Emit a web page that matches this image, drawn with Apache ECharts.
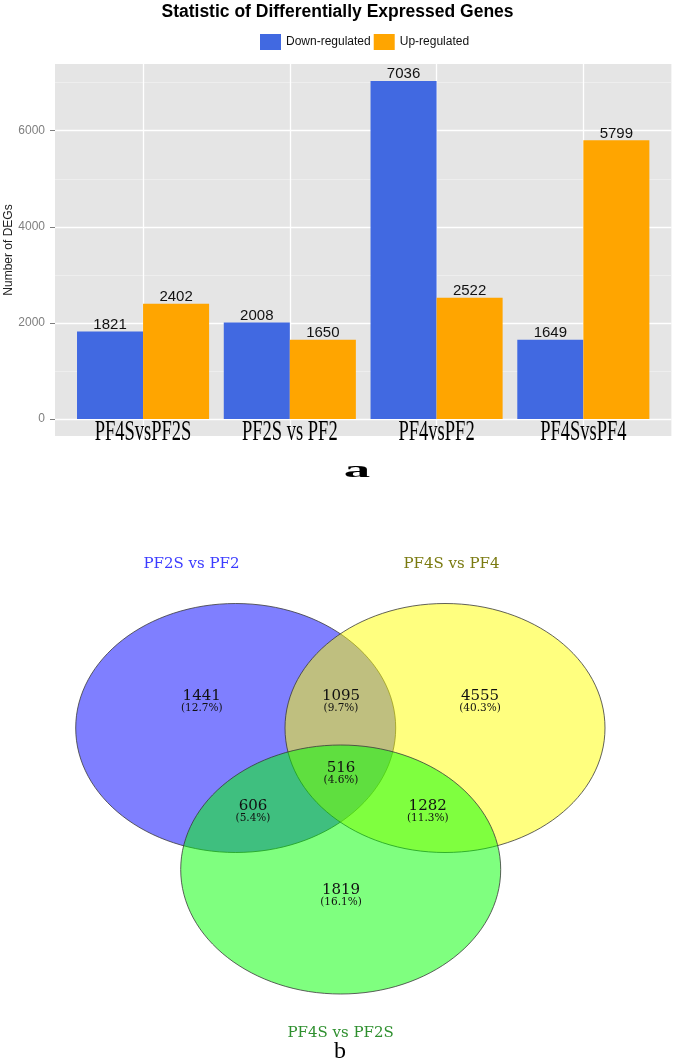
<!DOCTYPE html>
<html>
<head>
<meta charset="utf-8">
<script src="https://cdn.jsdelivr.net/npm/echarts@6/dist/echarts.min.js"></script>
<style>
html,body{margin:0;padding:0;background:#ffffff;}
#chart{width:675px;height:1063px;}
</style>
</head>
<body>
<div id="chart"></div>
<script>
// ---------------- data ----------------
const categories = ['PF4SvsPF2S', 'PF2S vs PF2', 'PF4vsPF2', 'PF4SvsPF4'];
const downRegulated = [1821, 2008, 7036, 1649];
const upRegulated = [2402, 1650, 2522, 5799];
const yMajorTicks = [0, 2000, 4000, 6000];
const yMinorTicks = [1000, 3000, 5000, 7000];

const vennSetNames = ['PF2S vs PF2', 'PF4S vs PF4', 'PF4S vs PF2S'];
// regions: only A, A∩B, only B, A∩C, A∩B∩C, B∩C, only C
const vennRegionCounts = [1441, 1095, 4555, 606, 516, 1282, 1819];
const vennRegionPercents = ['12.7%', '9.7%', '40.3%', '5.4%', '4.6%', '11.3%', '16.1%'];

// ---------------- layout / style ----------------
const dataMax = Math.max(...downRegulated, ...upRegulated);
const yMin = -0.05 * dataMax, yMax = 1.05 * dataMax;
const xMin = 0.4, xMax = categories.length + 0.6;
const catPos = categories.map((c, i) => i + 1);
const BAR_HALF = 0.45;

// Venn layout in diagram coordinates
const vennEllipseLayout = [
  { cx: 235.7, cy: 728, rx: 160, ry: 124.5, fill: 'rgba(0,0,255,0.5)' },
  { cx: 445.0, cy: 728, rx: 160, ry: 124.5, fill: 'rgba(255,255,0,0.5)' },
  { cx: 340.7, cy: 869.5, rx: 160, ry: 124.5, fill: 'rgba(0,255,0,0.5)' }
];
const vennSetLabelLayout = [
  { x: 191.5, y: 564, color: '#3b3bff' },
  { x: 451.5, y: 564, color: '#7a7a10' },
  { x: 340.6, y: 1033, color: '#2e8f2e' }
];
const vennRegionLabelLayout = [
  [201.7, 696], [341, 696], [480, 696], [253, 806], [341, 768], [427.7, 806], [341, 890]
];

const chart = echarts.init(document.getElementById('chart'), null, { renderer: 'canvas' });

function barRenderer(side) {
  return function (params, api) {
    const x = api.value(0), v = api.value(1);
    const x0 = side < 0 ? x - BAR_HALF : x;
    const x1 = side < 0 ? x : x + BAR_HALF;
    const pTop = api.coord([x0, v]);
    const pBot = api.coord([x1, 0]);
    return {
      type: 'group',
      children: [
        {
          type: 'rect',
          shape: { x: pTop[0], y: pTop[1], width: pBot[0] - pTop[0], height: pBot[1] - pTop[1] },
          style: { fill: api.visual('color') }
        },
        {
          type: 'text',
          style: {
            text: String(v), x: (pTop[0] + pBot[0]) / 2, y: pTop[1] - 7,
            align: 'center', verticalAlign: 'middle',
            fontFamily: 'Liberation Sans, Arial, sans-serif', fontSize: 15, fill: '#111'
          }
        }
      ]
    };
  };
}

const option = {
  animation: false,
  backgroundColor: '#ffffff',
  title: {
    text: 'Statistic of Differentially Expressed Genes',
    left: 'center', top: 3, padding: 0,
    textStyle: { fontFamily: 'Liberation Sans, Arial, sans-serif', fontWeight: 'bold', fontSize: 17.5, color: '#000' }
  },
  legend: {
    data: ['Down-regulated', 'Up-regulated'],
    left: 260, top: 34, padding: 0,
    icon: 'rect', itemWidth: 21, itemHeight: 16, itemGap: 3,
    textStyle: { fontFamily: 'Liberation Sans, Arial, sans-serif', fontSize: 12, color: '#111' }
  },
  graphic: [
    {
      type: 'text', x: 357, y: 471, scaleX: 2.2,
      style: { text: 'a', align: 'center', verticalAlign: 'middle', fontFamily: 'Liberation Serif, serif', fontWeight: 'bold', fontSize: 24, fill: '#000' }
    },
    {
      type: 'text', x: 340, y: 1052,
      style: { text: 'b', align: 'center', verticalAlign: 'middle', fontFamily: 'Liberation Serif, serif', fontSize: 24, fill: '#000' }
    }
  ],
  grid: [
    { left: 55, right: 675 - 671.4, top: 64, height: 372, show: true, backgroundColor: '#E5E5E5', borderWidth: 0, containLabel: false, outerBoundsMode: 'none' },
    { left: 0, top: 560, width: 675, height: 503, show: false, containLabel: false, outerBoundsMode: 'none' }
  ],
  xAxis: [
    {
      type: 'value', gridIndex: 0, min: xMin, max: xMax, position: 'bottom',
      axisLine: { show: false },
      axisTick: { show: false, customValues: catPos },
      axisLabel: { show: false },
      splitLine: { show: true, lineStyle: { color: '#ffffff', width: 1.3 } }
    },
    { type: 'value', gridIndex: 1, min: 0, max: 675, show: false }
  ],
  yAxis: [
    { // minor grid lines
      type: 'value', gridIndex: 0, min: yMin, max: yMax, position: 'left',
      axisLine: { show: false }, axisLabel: { show: false },
      axisTick: { show: false, customValues: yMinorTicks },
      splitLine: { show: true, lineStyle: { color: '#F2F2F2', width: 0.7 } }
    },
    { // major grid lines, ticks, labels
      type: 'value', gridIndex: 0, min: yMin, max: yMax, position: 'left', offset: 0,
      name: 'Number of DEGs', nameLocation: 'middle', nameRotate: 90, nameGap: 40, nameMoveOverlap: false,
      nameTextStyle: { fontFamily: 'Liberation Sans, Arial, sans-serif', fontSize: 12, color: '#222' },
      axisLine: { show: false },
      axisTick: { show: true, length: 5, customValues: yMajorTicks, lineStyle: { color: '#7f7f7f', width: 1 } },
      axisLabel: {
        customValues: yMajorTicks, margin: 10, color: '#7f7f7f', fontSize: 12,
        fontFamily: 'Liberation Sans, Arial, sans-serif', formatter: v => String(v)
      },
      splitLine: { show: true, lineStyle: { color: '#ffffff', width: 1.3 } }
    },
    { type: 'value', gridIndex: 1, min: 560, max: 1063, inverse: true, show: false }
  ],
  series: [
    {
      name: 'Down-regulated', type: 'custom', xAxisIndex: 0, yAxisIndex: 1,
      itemStyle: { color: '#4169E1' }, clip: false,
      data: downRegulated.map((v, i) => [catPos[i], v]),
      renderItem: barRenderer(-1)
    },
    {
      name: 'Up-regulated', type: 'custom', xAxisIndex: 0, yAxisIndex: 1,
      itemStyle: { color: '#FFA500' }, clip: false,
      data: upRegulated.map((v, i) => [catPos[i], v]),
      renderItem: barRenderer(1)
    },
    { // category labels (tall serif text as in the figure)
      name: 'categoryLabels', type: 'custom', xAxisIndex: 0, yAxisIndex: 1, clip: false, silent: true,
      data: catPos.map(p => [p, yMin]),
      renderItem: function (params, api) {
        const p = api.coord([api.value(0), api.value(1)]);
        return {
          type: 'text', x: p[0], y: p[1] - 4, scaleY: 1.55,
          style: {
            text: categories[params.dataIndex], x: 0, y: 0, align: 'center', verticalAlign: 'middle',
            fontFamily: 'Liberation Serif, Times New Roman, serif', fontSize: 18.5, fill: '#000'
          }
        };
      }
    },
    { // Venn ellipses
      name: 'vennSets', type: 'custom', xAxisIndex: 1, yAxisIndex: 2, clip: false, silent: true,
      data: vennEllipseLayout.map(e => [e.cx, e.cy, e.rx, e.ry]),
      renderItem: function (params, api) {
        const c = api.coord([api.value(0), api.value(1)]);
        const s = api.size([api.value(2), api.value(3)], [api.value(0), api.value(1)]);
        return {
          type: 'ellipse',
          shape: { cx: c[0], cy: c[1], rx: s[0], ry: s[1] },
          style: { fill: vennEllipseLayout[params.dataIndex].fill, stroke: '#3a3a3a', lineWidth: 0.8 }
        };
      }
    },
    { // Venn set names
      name: 'vennSetNames', type: 'custom', xAxisIndex: 1, yAxisIndex: 2, clip: false, silent: true,
      data: vennSetLabelLayout.map(l => [l.x, l.y]),
      renderItem: function (params, api) {
        const c = api.coord([api.value(0), api.value(1)]);
        return {
          type: 'text',
          style: {
            text: vennSetNames[params.dataIndex], x: c[0], y: c[1], align: 'center', verticalAlign: 'middle',
            fontFamily: 'DejaVu Serif, serif', fontSize: 15, fill: vennSetLabelLayout[params.dataIndex].color
          }
        };
      }
    },
    { // Venn region counts and percentages
      name: 'vennRegions', type: 'custom', xAxisIndex: 1, yAxisIndex: 2, clip: false, silent: true,
      data: vennRegionLabelLayout.map((p, i) => [p[0], p[1], vennRegionCounts[i]]),
      renderItem: function (params, api) {
        const c = api.coord([api.value(0), api.value(1)]);
        return {
          type: 'group',
          children: [
            {
              type: 'text',
              style: {
                text: String(api.value(2)), x: c[0], y: c[1], align: 'center', verticalAlign: 'middle',
                fontFamily: 'DejaVu Serif, serif', fontSize: 15, fill: '#111'
              }
            },
            {
              type: 'text',
              style: {
                text: '(' + vennRegionPercents[params.dataIndex] + ')', x: c[0], y: c[1] + 12.5,
                align: 'center', verticalAlign: 'middle',
                fontFamily: 'DejaVu Serif, serif', fontSize: 10.5, fill: '#111'
              }
            }
          ]
        };
      }
    }
  ]
};

chart.setOption(option);
</script>
</body>
</html>
